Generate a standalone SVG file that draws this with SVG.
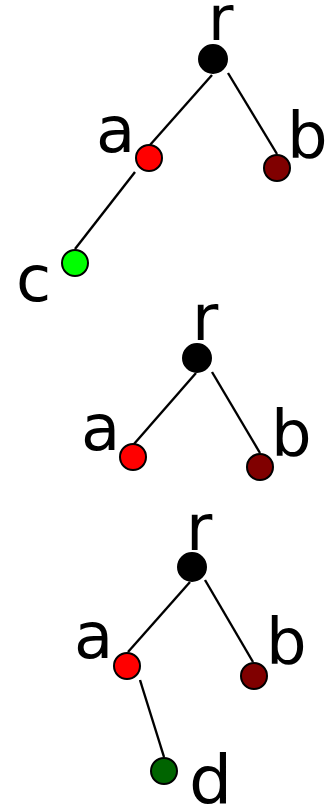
<svg xmlns="http://www.w3.org/2000/svg" width="326" height="806" viewBox="0 0 326 806">
<style>
.e{stroke:#000;stroke-width:2.4;fill:none}
.n{stroke:#000;stroke-width:2}
.l{font-family:"DejaVu Sans",sans-serif;font-size:64px;fill:#000}
</style>
<rect width="326" height="806" fill="#fff"/>
<g id="connectors">
<line class="e" x1="212" y1="75" x2="150" y2="145"/>
<line class="e" x1="228" y1="73" x2="277" y2="154"/>
<line class="e" x1="135" y1="172" x2="75" y2="249"/>
<line class="e" x1="196" y1="373" x2="134" y2="444"/>
<line class="e" x1="212" y1="372" x2="260" y2="453"/>
<line class="e" x1="190" y1="582" x2="128" y2="652"/>
<line class="e" x1="205" y1="580" x2="253" y2="662"/>
<line class="e" x1="140" y1="680" x2="164" y2="757"/>
</g>
<g id="t1-r"><circle class="n" cx="213" cy="59" r="14" fill="#000"/><text class="l" x="208" y="40" style="font-size:62px">r</text></g>
<g id="t1-a"><circle class="n" cx="149" cy="158" r="13" fill="#f00"/><text class="l" x="96" y="152">a</text></g>
<g id="t1-b"><circle class="n" cx="277" cy="168" r="13" fill="#800000"/><text class="l" x="287" y="158">b</text></g>
<g id="t1-c"><circle class="n" cx="75" cy="263" r="13" fill="#0f0"/><text class="l" x="16" y="301">c</text></g>
<g id="t2-r"><circle class="n" cx="197" cy="358" r="14" fill="#000"/><text class="l" x="192" y="340">r</text></g>
<g id="t2-a"><circle class="n" cx="133" cy="457" r="13" fill="#f00"/><text class="l" x="81" y="450">a</text></g>
<g id="t2-b"><circle class="n" cx="260" cy="467" r="13" fill="#800000"/><text class="l" x="271" y="456">b</text></g>
<g id="t3-r"><circle class="n" cx="192" cy="567" r="14" fill="#000"/><text class="l" x="186" y="550">r</text></g>
<g id="t3-a"><circle class="n" cx="127" cy="666" r="13" fill="#f00"/><text class="l" x="74" y="658">a</text></g>
<g id="t3-b"><circle class="n" cx="254" cy="676" r="13" fill="#800000"/><text class="l" x="266" y="664">b</text></g>
<g id="t3-d"><circle class="n" cx="164" cy="771" r="13" fill="#006400"/><text class="l" x="189" y="804" style="font-size:68px">d</text></g>
</svg>
